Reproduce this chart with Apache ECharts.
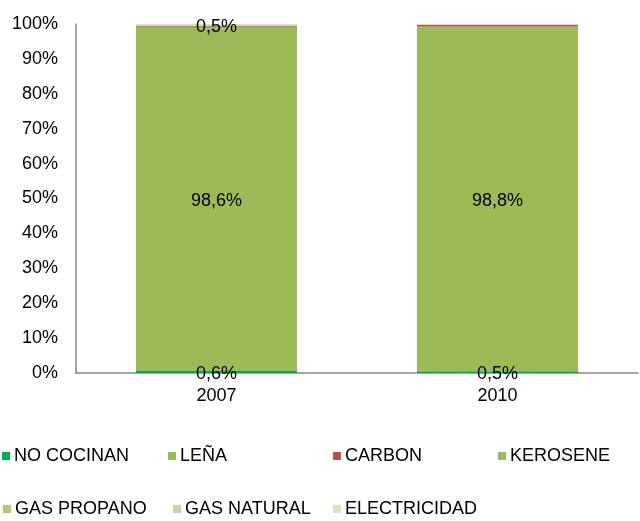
<!DOCTYPE html>
<html><head><meta charset="utf-8">
<script src="https://cdn.jsdelivr.net/npm/echarts@6/dist/echarts.min.js"></script>
<style>html,body{margin:0;padding:0;background:#fff}#c{width:640px;height:521px}</style>
</head><body><div id="c"></div>
<script>
const categories = ['2007', '2010'];
const seriesNames = ['NO COCINAN', 'LEÑA', 'CARBON', 'KEROSENE', 'GAS PROPANO', 'GAS NATURAL', 'ELECTRICIDAD'];
const noCocinan = [0.6, 0.5];
const lena = [98.6, 98.8];
const carbon = [0.3, 0.4];
const kerosene = [0.0, 0.0];
const gasPropano = [0.0, 0.0];
const gasNatural = [0.0, 0.0];
const electricidad = [0.5, 0.3];
const yTicks = [0, 10, 20, 30, 40, 50, 60, 70, 80, 90, 100];
// which points carry a value label
const labelShown = {
  'NO COCINAN': [true, true],
  'LEÑA': [true, true],
  'ELECTRICIDAD': [true, false]
};
const colors = ['#00B050', '#9BBB59', '#C0504D', '#9BBB59', '#AFC77F', '#C3D69B', '#D7E4BD'];
const allValues = [noCocinan, lena, carbon, kerosene, gasPropano, gasNatural, electricidad];

const FONT = 'Liberation Sans, Arial, sans-serif';
const fmt = v => v.toFixed(1).replace('.', ',') + '%';

const series = seriesNames.map((name, i) => ({
  name: name,
  type: 'bar',
  stack: 'total',
  barWidth: 161,
  itemStyle: { color: colors[i] },
  data: allValues[i].map((v, j) => ({
    value: v,
    label: {
      show: !!(labelShown[name] && labelShown[name][j]),
      position: 'inside',
      color: '#000',
      fontSize: 18,
      fontFamily: FONT,
      offset: [0, 2],
      formatter: p => fmt(p.value)
    }
  }))
}));

const legendPos = [
  [2, 447], [168, 447], [333, 447], [498, 447],
  [3, 500], [173, 500], [333, 500]
];
const legends = seriesNames.map((n, i) => ({
  data: [n],
  left: legendPos[i][0],
  top: legendPos[i][1],
  itemWidth: 8,
  itemHeight: 8,
  itemGap: 0,
  padding: 0,
  icon: 'rect',
  selectedMode: false,
  textStyle: { fontSize: 18, color: '#000', fontFamily: FONT, padding: [0, 0, 0, -1] }
}));

const chart = echarts.init(document.getElementById('c'));
chart.setOption({
  animation: false,
  legend: legends,
  grid: { left: 76, right: 2, top: 24, bottom: 148 },
  xAxis: {
    type: 'category',
    data: categories,
    axisLine: { lineStyle: { color: '#868686', width: 1.5 } },
    axisTick: { show: false },
    axisLabel: { color: '#000', fontSize: 18, margin: 14, fontFamily: FONT }
  },
  yAxis: {
    type: 'value',
    min: yTicks[0],
    max: yTicks[yTicks.length - 1],
    interval: yTicks[1] - yTicks[0],
    splitLine: { show: false },
    axisLine: { show: true, lineStyle: { color: '#868686', width: 1.5 } },
    axisTick: { show: false },
    axisLabel: { color: '#000', fontSize: 18, margin: 18, padding: [4, 0, 0, 0], formatter: '{value}%', fontFamily: FONT }
  },
  series: series
});
</script>
</body></html>
